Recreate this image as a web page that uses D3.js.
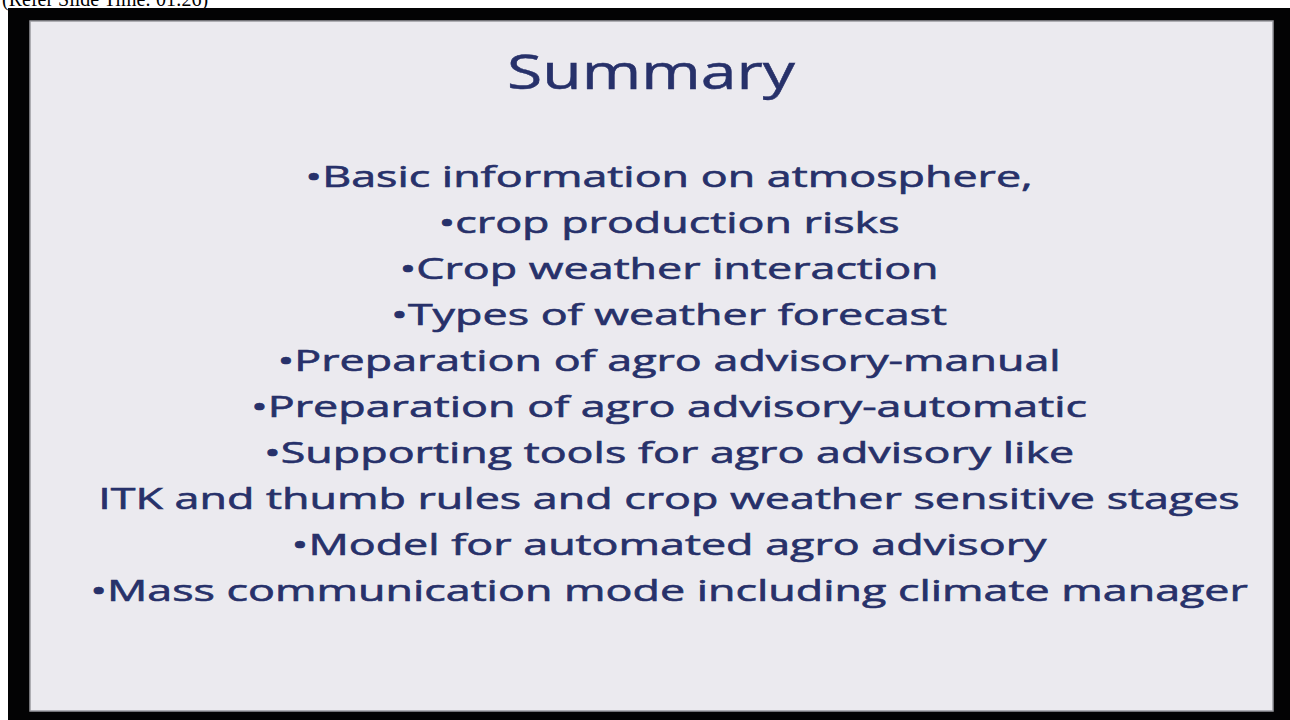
<!DOCTYPE html>
<html>
<head>
<meta charset="utf-8">
<script src="https://cdn.jsdelivr.net/npm/d3@7"></script>
<style>
  html, body { margin: 0; padding: 0; background: #fff; }
  svg { display: block; }
</style>
</head>
<body>
<script>
// slide content
var caption = "(Refer Slide Time: 01:26)";
var title = "Summary";
var items = [
  "\u2022Basic information on atmosphere,",
  "\u2022crop production risks",
  "\u2022Crop weather interaction",
  "\u2022Types of weather forecast",
  "\u2022Preparation of agro advisory-manual",
  "\u2022Preparation of agro advisory-automatic",
  "\u2022Supporting tools for agro advisory like",
  "ITK and thumb rules and crop weather sensitive stages",
  "\u2022Model for automated agro advisory",
  "\u2022Mass communication mode including climate manager"
];

var W = 1290, H = 720;
var svg = d3.select("body").append("svg")
  .attr("width", W)
  .attr("height", H);

svg.append("rect").attr("width", W).attr("height", H).attr("fill", "#fff");

// caption, mostly hidden behind the frame like in the video grab
svg.append("text")
  .attr("x", 2)
  .attr("y", 6)
  .attr("font-family", "Liberation Serif, serif")
  .attr("font-size", 20)
  .attr("fill", "#000")
  .text(caption);

// black video frame
svg.append("rect")
  .attr("x", 8).attr("y", 8)
  .attr("width", W - 8).attr("height", H - 8)
  .attr("fill", "#030304");

// slide panel
svg.append("rect")
  .attr("x", 30).attr("y", 21)
  .attr("width", 1243).attr("height", 690)
  .attr("fill", "#ebeaef")
  .attr("stroke", "#9a9aa0")
  .attr("stroke-width", 1.5);

var ink = "#27316a";
var font = "'Open Sans', 'Noto Sans', sans-serif";

var t = svg.append("text")
  .attr("text-anchor", "middle")
  .attr("font-family", font)
  .attr("font-size", 47)
  .attr("fill", ink)
  .attr("stroke", ink)
  .attr("stroke-width", 0.5)
  .text(title);
var tw = t.node().getComputedTextLength();
t.attr("transform", "translate(651,89) scale(" + (288 / tw) + ",1)");

var y = d3.scalePoint()
  .domain(d3.range(items.length))
  .range([187, 601]);

var lines = svg.selectAll("text.item")
  .data(items)
  .enter()
  .append("text")
  .attr("class", "item")
  .attr("text-anchor", "middle")
  .attr("font-family", font)
  .attr("font-size", 29.5)
  .attr("fill", ink)
  .attr("stroke", ink)
  .attr("stroke-width", 0.6)
  .text(function(d){ return d; });

// stretch horizontally like the video frame, using the longest line
var longest = lines.filter(function(d, i){ return i === items.length - 1; }).node().getComputedTextLength();
var sx = 1158 / longest;
lines.attr("transform", function(d, i){
  return "translate(669," + y(i) + ") scale(" + sx + ",1)";
});
</script>
</body>
</html>
